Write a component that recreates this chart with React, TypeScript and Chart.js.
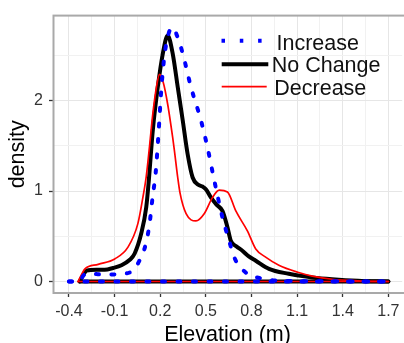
import React, { useEffect, useRef } from 'react';
import { Chart, registerables } from 'chart.js';

Chart.register(...registerables);

// ---------- data ----------
const seriesNames = ['Increase', 'No Change', 'Decrease'];

const increaseX = [-0.4, -0.33, -0.306, -0.274, -0.22, -0.165, -0.11, -0.055, 0.0, 0.032, 0.06, 0.086, 0.11, 0.13, 0.151, 0.17, 0.19, 0.206, 0.228, 0.255, 0.282, 0.31, 0.348, 0.402, 0.468, 0.511, 0.555, 0.609, 0.653, 0.686, 0.72, 0.762, 0.8, 0.838, 0.87, 0.958, 1.1, 1.3, 1.5, 1.7];
const increaseY = [0, 0, 0.066, 0.09, 0.082, 0.077, 0.078, 0.085, 0.1, 0.14, 0.22, 0.31, 0.45, 0.64, 0.95, 1.2, 1.67, 2.1, 2.5, 2.74, 2.81, 2.72, 2.52, 2.15, 1.78, 1.48, 1.12, 0.71, 0.45, 0.27, 0.17, 0.1, 0.05, 0.045, 0.03, 0.01, 0.004, 0.002, 0.001, 0];

const noChangeX = [-0.33, -0.3, -0.284, -0.22, -0.165, -0.11, -0.055, 0.0, 0.032, 0.075, 0.108, 0.125, 0.151, 0.184, 0.217, 0.249, 0.282, 0.315, 0.348, 0.38, 0.413, 0.45, 0.478, 0.5, 0.533, 0.57, 0.609, 0.642, 0.664, 0.7, 0.74, 0.78, 0.828, 0.915, 1.045, 1.11, 1.2, 1.33, 1.5, 1.7];
const noChangeY = [0, 0.09, 0.12, 0.13, 0.13, 0.15, 0.18, 0.24, 0.31, 0.53, 0.82, 1.12, 1.67, 2.15, 2.52, 2.72, 2.52, 2.15, 1.78, 1.41, 1.15, 1.07, 1.05, 1.02, 0.93, 0.85, 0.78, 0.6, 0.45, 0.39, 0.34, 0.28, 0.23, 0.14, 0.085, 0.066, 0.045, 0.025, 0.008, 0];

const decreaseX = [-0.34, -0.31, -0.295, -0.208, -0.099, -0.012, 0.053, 0.086, 0.108, 0.13, 0.151, 0.175, 0.195, 0.22, 0.249, 0.282, 0.293, 0.315, 0.33, 0.37, 0.435, 0.489, 0.544, 0.588, 0.642, 0.697, 0.773, 0.828, 0.893, 0.98, 1.11, 1.2, 1.33, 1.5, 1.7];
const decreaseY = [0, 0.1, 0.14, 0.19, 0.25, 0.38, 0.64, 0.93, 1.16, 1.5, 1.85, 2.15, 2.29, 2.2, 1.96, 1.59, 1.45, 1.15, 0.98, 0.75, 0.67, 0.75, 0.93, 1.01, 0.99, 0.78, 0.56, 0.36, 0.27, 0.18, 0.1, 0.06, 0.025, 0.008, 0];

const xTickValues = [-0.4, -0.1, 0.2, 0.5, 0.8, 1.1, 1.4, 1.7];
const xTickLabels = ['-0.4', '-0.1', '0.2', '0.5', '0.8', '1.1', '1.4', '1.7'];
const yTickValues = [0, 1, 2];
const yTickLabels = ['0', '1', '2'];

const xTitle = 'Elevation (m)';
const yTitle = 'density';

// ---------- styling ----------
const FONT = "'Liberation Sans', Arial, Helvetica, sans-serif";
const X_MIN = -0.505;
const X_MAX = 1.7906;
const Y_MIN = -0.127;
const Y_MAX = 2.94;

const STYLE = {
  Increase: { color: '#0000ff', width: 4, dash: [3, 12.5], cap: 'round' },
  'No Change': { color: '#000000', width: 4, dash: [], cap: 'round' },
  Decrease: { color: '#ff0000', width: 1.7, dash: [], cap: 'round' },
};

function withMinor(values: number[], min: number, max: number) {
  const step = values[1] - values[0];
  const all: number[] = [];
  const first = values[0] - step / 2;
  for (let v = first; v <= max + 1e-9; v += step / 2) {
    if (v >= min - 1e-9) all.push(Math.round(v * 1000) / 1000);
  }
  return all;
}
function labelFor(values: number[], labels: string[], v: number) {
  const i = values.findIndex((t) => Math.abs(t - v) < 1e-6);
  return i >= 0 ? labels[i] : '';
}
function isMajor(values: number[], v: number) {
  return values.some((t) => Math.abs(t - v) < 1e-6);
}

const pts = (xs: number[], ys: number[]) => xs.map((x, i) => ({ x, y: ys[i] }));
const baseline = (xs: number[]) => [
  { x: xs[0], y: 0 },
  { x: xs[xs.length - 1], y: 0 },
];

const panelPlugin = {
  id: 'panelBorder',
  beforeDatasetsDraw(chart: any) {
    const { ctx, chartArea: a } = chart;
    ctx.save();
    ctx.strokeStyle = '#a9a9a9';
    ctx.lineWidth = 2;
    ctx.strokeRect(a.left + 0.5, a.top, a.right - a.left + 20, a.bottom - a.top);
    ctx.restore();
  },
};

const legendPlugin = {
  id: 'insideLegend',
  afterDraw(chart: any) {
    const { ctx } = chart;
    const items = [
      { name: seriesNames[0], x1: 221.5, x2: 262, y: 40.7, tx: 276.5, ty: 50, dash: [3.5, 14.8], cap: 'butt', w: 4 },
      { name: seriesNames[1], x1: 221.7, x2: 268.3, y: 64.3, tx: 271.7, ty: 71.7, dash: [], cap: 'butt', w: 4 },
      { name: seriesNames[2], x1: 221.7, x2: 266.7, y: 86.7, tx: 274.3, ty: 95, dash: [], cap: 'butt', w: 1.7 },
    ];
    ctx.save();
    items.forEach((it) => {
      const st = (STYLE as any)[it.name];
      ctx.beginPath();
      ctx.setLineDash(it.dash);
      ctx.lineCap = it.cap;
      ctx.lineWidth = it.w;
      ctx.strokeStyle = st.color;
      ctx.moveTo(it.x1, it.y);
      ctx.lineTo(it.x2, it.y);
      ctx.stroke();
      ctx.setLineDash([]);
      ctx.fillStyle = '#111111';
      ctx.font = `21.5px ${FONT}`;
      ctx.textAlign = 'left';
      ctx.textBaseline = 'alphabetic';
      ctx.fillText(it.name, it.tx, it.ty);
    });
    ctx.restore();
  },
};

function lineDataset(name: string, data: any[]) {
  const st = (STYLE as any)[name];
  return {
    label: name,
    data,
    showLine: true,
    borderColor: st.color,
    backgroundColor: st.color,
    borderWidth: st.width,
    borderDash: st.dash,
    borderCapStyle: st.cap,
    borderJoinStyle: 'round',
    pointRadius: 0,
    fill: false,
    cubicInterpolationMode: 'monotone',
  };
}

export default function App() {
  const ref = useRef<HTMLCanvasElement>(null);

  useEffect(() => {
    if (!ref.current) return;
    const xAll = withMinor(xTickValues, X_MIN, X_MAX);
    const yAll = withMinor(yTickValues, Y_MIN, Y_MAX);

    // index 0 is drawn on top
    const datasets = [
      lineDataset('Increase', pts(increaseX, increaseY)),
      lineDataset('Increase', baseline(increaseX)),
      lineDataset('Decrease', pts(decreaseX, decreaseY)),
      lineDataset('Decrease', baseline(decreaseX)),
      lineDataset('No Change', pts(noChangeX, noChangeY)),
      lineDataset('No Change', baseline(noChangeX)),
    ];

    const chart = new Chart(ref.current, {
      type: 'scatter',
      data: { datasets } as any,
      plugins: [panelPlugin, legendPlugin],
      options: {
        responsive: false,
        animation: false,
        devicePixelRatio: 1,
        layout: { padding: { top: 14, right: 0, left: 0, bottom: 0 } },
        plugins: { legend: { display: false }, tooltip: { enabled: false } },
        scales: {
          x: {
            type: 'linear',
            min: X_MIN,
            max: X_MAX,
            afterFit: (s: any) => {
              s.height = 50;
            },
            afterBuildTicks: (s: any) => {
              s.ticks = xAll.map((v) => ({ value: v }));
            },
            ticks: {
              autoSkip: false,
              maxRotation: 0,
              minRotation: 0,
              padding: 4.5,
              color: '#333333',
              font: { family: FONT, size: 16, lineHeight: 1.2 },
              callback: (v: any) => labelFor(xTickValues, xTickLabels, Number(v)),
            },
            grid: {
              color: (c: any) => (c.tick && isMajor(xTickValues, c.tick.value) ? '#e6e6e6' : '#f1f1f1'),
              tickColor: (c: any) => (c.tick && isMajor(xTickValues, c.tick.value) ? '#333333' : 'rgba(0,0,0,0)'),
              lineWidth: 1,
              tickLength: 4,
              tickWidth: 1.3,
            },
            border: { display: false },
            title: {
              display: true,
              text: xTitle,
              color: '#000000',
              font: { family: FONT, size: 21.5, lineHeight: 0.7 },
              padding: { top: 0, bottom: 0.8 },
            },
          },
          y: {
            type: 'linear',
            min: Y_MIN,
            max: Y_MAX,
            afterFit: (s: any) => {
              s.width = 53;
            },
            afterBuildTicks: (s: any) => {
              s.ticks = yAll.map((v) => ({ value: v }));
            },
            ticks: {
              autoSkip: false,
              padding: 6,
              color: '#333333',
              font: { family: FONT, size: 16 },
              callback: (v: any) => labelFor(yTickValues, yTickLabels, Number(v)),
            },
            grid: {
              color: (c: any) => (c.tick && isMajor(yTickValues, c.tick.value) ? '#e6e6e6' : '#f1f1f1'),
              tickColor: (c: any) => (c.tick && isMajor(yTickValues, c.tick.value) ? '#333333' : 'rgba(0,0,0,0)'),
              lineWidth: 1,
              tickLength: 4,
              tickWidth: 1.3,
            },
            border: { display: false },
            title: {
              display: true,
              text: yTitle,
              color: '#000000',
              font: { family: FONT, size: 21.5, lineHeight: 0.7 },
              padding: { top: 10.2, bottom: 0 },
            },
          },
        },
      } as any,
    });
    return () => chart.destroy();
  }, []);

  return (
    <div style={{ position: 'fixed', left: 0, top: 0, width: 404, height: 343, background: '#ffffff' }}>
      <canvas ref={ref} width={404} height={343} style={{ display: 'block' }} />
    </div>
  );
}
